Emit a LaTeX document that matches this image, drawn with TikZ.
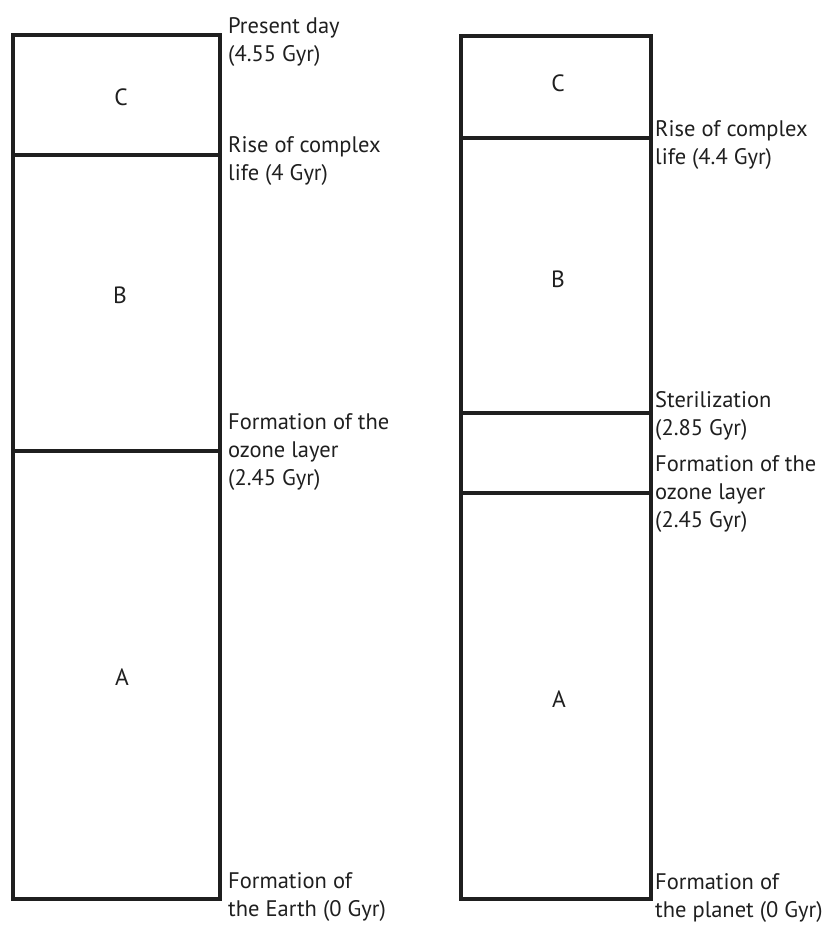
\documentclass[tikz,border=0pt]{standalone}
\usepackage{fontspec}
\setmainfont{PT Sans}
\tikzset{
  era/.style={font=\fontsize{23.5}{28}\selectfont, inner sep=0pt},
  mark label/.style={font=\fontsize{22.5}{28}\selectfont, inner sep=0pt, anchor=base west, align=left},
  frame/.style={line width=3.2pt, line cap=rect}
}
\begin{document}
\begin{tikzpicture}[x=1pt,y=-1pt,color={black!88}]
\useasboundingbox (0,0) rectangle (823,929);
% Earth
\draw[frame] (13,35) rectangle (220,899);
\draw[frame] (13,155) -- (220,155);
\draw[frame] (13,451) -- (220,451);
\node[era] (c0) at (121,97) {C};
\node[era] (b0) at (120,295) {B};
\node[era] (a0) at (122,677) {A};
% labels sit on their last line
\node[mark label] (t0) at (228,61) {Present day\\(4.55 Gyr)};
\node[mark label] (t1) at (228,180) {Rise of complex\\life (4 Gyr)};
\node[mark label] (t2) at (228,485) {Formation of the\\ozone layer\\(2.45 Gyr)};
\node[mark label] (t3) at (228,916) {Formation of\\the Earth (0 Gyr)};
% planet
\draw[frame] (461,36) rectangle (651,899);
\draw[frame] (461,138) -- (651,138);
\draw[frame] (461,413) -- (651,413);
\draw[frame] (461,493) -- (651,493);
\node[era] (c1) at (558,83) {C};
\node[era] (b1) at (558,279) {B};
\node[era] (a1) at (559,699) {A};
\node[mark label] (s0) at (655,164) {Rise of complex\\life (4.4 Gyr)};
\node[mark label] (s1) at (655,435) {Sterilization\\(2.85 Gyr)};
\node[mark label] (s2) at (655,527) {Formation of the\\ozone layer\\(2.45 Gyr)};
\node[mark label] (s3) at (655,917) {Formation of\\the planet (0 Gyr)};
\end{tikzpicture}
\end{document}
